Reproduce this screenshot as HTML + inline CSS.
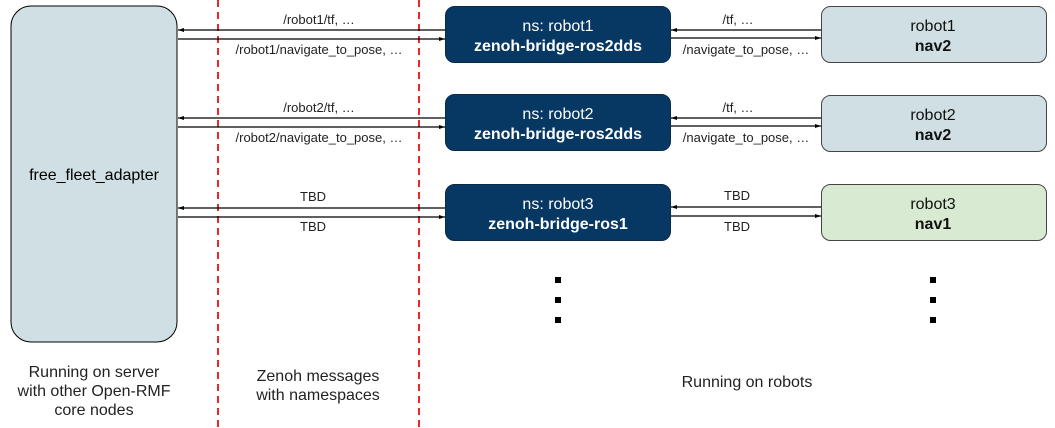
<!DOCTYPE html>
<html><head><meta charset="utf-8"><style>
html,body{margin:0;padding:0;background:#fff;}
svg{display:block;font-family:"Liberation Sans",Arial,sans-serif;}
</style></head><body>
<svg width="1055" height="428" viewBox="0 0 1055 428" xmlns="http://www.w3.org/2000/svg">
<defs>
<marker id="a" markerWidth="6" markerHeight="4" refX="6" refY="2" orient="auto" markerUnits="userSpaceOnUse"><path d="M0,0 L6,2 L0,4 Z" fill="#000"/></marker>
</defs>
<rect x="11" y="6" width="166" height="336" rx="20" fill="#d0dfe3" stroke="#000" stroke-width="1"/>
<text x="94" y="180" font-size="16" text-anchor="middle">free_fleet_adapter</text>
<line x1="218" y1="0" x2="218" y2="428" stroke="#e52b2b" stroke-width="2" stroke-dasharray="7,5"/>
<line x1="419" y1="0" x2="419" y2="428" stroke="#e52b2b" stroke-width="2" stroke-dasharray="7,5"/>
<g font-size="16" text-anchor="middle" fill="#222">
<text x="94" y="377">Running on server</text>
<text x="94" y="396">with other Open-RMF</text>
<text x="94" y="415">core nodes</text>
<text x="318" y="381">Zenoh messages</text>
<text x="318" y="400">with namespaces</text>
<text x="747" y="387">Running on robots</text>
</g>
<g stroke="#000" stroke-width="1.3">
<line x1="445" y1="30" x2="178" y2="30" marker-end="url(#a)"/>
<line x1="178" y1="39" x2="445" y2="39" marker-end="url(#a)"/>
<line x1="445" y1="118" x2="178" y2="118" marker-end="url(#a)"/>
<line x1="178" y1="127" x2="445" y2="127" marker-end="url(#a)"/>
<line x1="445" y1="208" x2="178" y2="208" marker-end="url(#a)"/>
<line x1="178" y1="217" x2="445" y2="217" marker-end="url(#a)"/>
<line x1="821" y1="30" x2="671" y2="30" marker-end="url(#a)"/>
<line x1="671" y1="38" x2="821" y2="38" marker-end="url(#a)"/>
<line x1="821" y1="118" x2="671" y2="118" marker-end="url(#a)"/>
<line x1="671" y1="126" x2="821" y2="126" marker-end="url(#a)"/>
<line x1="821" y1="207" x2="671" y2="207" marker-end="url(#a)"/>
<line x1="671" y1="216" x2="821" y2="216" marker-end="url(#a)"/>
</g>
<g font-size="13" text-anchor="middle" fill="#222">
<text x="319" y="24">/robot1/tf, …</text>
<text x="319" y="54">/robot1/navigate_to_pose, …</text>
<text x="319" y="112">/robot2/tf, …</text>
<text x="319" y="142">/robot2/navigate_to_pose, …</text>
<text x="313" y="201">TBD</text>
<text x="313" y="231">TBD</text>
<text x="738" y="24">/tf, …</text>
<text x="746" y="54">/navigate_to_pose, …</text>
<text x="738" y="112">/tf, …</text>
<text x="746" y="142">/navigate_to_pose, …</text>
<text x="737" y="200">TBD</text>
<text x="737" y="231">TBD</text>
</g>
<g fill="#073763" stroke="#0a2a4a" stroke-width="1">
<rect x="445.5" y="6.5" width="225" height="56" rx="9"/>
<rect x="445.5" y="94.5" width="225" height="56" rx="9"/>
<rect x="445.5" y="184.5" width="225" height="56" rx="9"/>
</g>
<g fill="#fff" text-anchor="middle" font-size="16">
<text x="558" y="31">ns: robot1</text>
<text x="558" y="51" font-weight="bold">zenoh-bridge-ros2dds</text>
<text x="558" y="119">ns: robot2</text>
<text x="558" y="139" font-weight="bold">zenoh-bridge-ros2dds</text>
<text x="558" y="209">ns: robot3</text>
<text x="558" y="229" font-weight="bold">zenoh-bridge-ros1</text>
</g>
<rect x="821.5" y="6.5" width="225" height="56" rx="9" fill="#d0dfe3" stroke="#444"/>
<rect x="821.5" y="95.5" width="225" height="56" rx="9" fill="#d0dfe3" stroke="#444"/>
<rect x="821.5" y="184.5" width="225" height="56" rx="9" fill="#d9ead3" stroke="#444"/>
<g fill="#111" text-anchor="middle" font-size="16">
<text x="933" y="31">robot1</text>
<text x="933" y="51" font-weight="bold">nav2</text>
<text x="933" y="120">robot2</text>
<text x="933" y="140" font-weight="bold">nav2</text>
<text x="933" y="209">robot3</text>
<text x="933" y="229" font-weight="bold">nav1</text>
</g>
<g fill="#000">
<rect x="555" y="277" width="6" height="6"/><rect x="555" y="297" width="6" height="6"/><rect x="555" y="317" width="6" height="6"/>
<rect x="930" y="277" width="6" height="6"/><rect x="930" y="297" width="6" height="6"/><rect x="930" y="317" width="6" height="6"/>
</g>
</svg>
</body></html>
